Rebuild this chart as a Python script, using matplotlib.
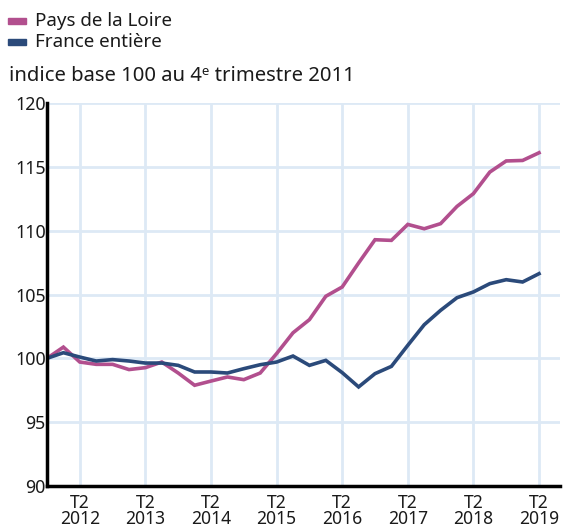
import matplotlib
matplotlib.use("Agg")
import matplotlib.pyplot as plt
from matplotlib.patches import Rectangle

plt.rcParams['font.family'] = ['Noto Sans', 'DejaVu Sans']

# quarters from 2011 T4 to 2019 T2
quarters = list(range(31))
pays_de_la_loire = [100.0, 100.88, 99.71, 99.53, 99.53, 99.12, 99.27, 99.71, 98.85, 97.89,
                    98.22, 98.54, 98.33, 98.85, 100.37, 102.0, 103.03, 104.86, 105.59, 107.47,
                    109.29, 109.24, 110.49, 110.15, 110.55, 111.9, 112.9, 114.59, 115.46, 115.5,
                    116.1]
france = [100.0, 100.44, 100.1, 99.79, 99.9, 99.79, 99.63, 99.63, 99.45, 98.93,
          98.93, 98.85, 99.19, 99.5, 99.71, 100.18, 99.45, 99.84, 98.88, 97.76,
          98.8, 99.37, 101.02, 102.63, 103.76, 104.75, 105.2, 105.85, 106.16, 105.98,
          106.63]
xtick_pos = [2, 6, 10, 14, 18, 22, 26, 30]
xtick_labels = ["T2\n2012", "T2\n2013", "T2\n2014", "T2\n2015", "T2\n2016", "T2\n2017", "T2\n2018", "T2\n2019"]
yticks = [90, 95, 100, 105, 110, 115, 120]
series_names = ["Pays de la Loire", "France entière"]
colors = ["#b24f8e", "#2b4a7a"]

W, H = 563, 529
fig = plt.figure(figsize=(W / 100, H / 100), dpi=100)
ax = fig.add_axes([47 / W, 1 - 486 / H, (560 - 47) / W, (486 - 103) / H])

ax.plot(quarters, pays_de_la_loire, color=colors[0], lw=2.6, solid_joinstyle='miter', zorder=3)
ax.plot(quarters, france, color=colors[1], lw=2.6, solid_joinstyle='miter', zorder=4)

ax.set_xlim(0, (560 - 47) / 16.4)
ax.set_ylim(90, 120)
ax.set_xticks(xtick_pos)
ax.set_xticklabels(xtick_labels, fontsize=12.6, linespacing=0.85)
ax.set_yticks(yticks)
ax.set_yticklabels([str(v) for v in yticks], fontsize=12.8)
ax.tick_params(length=0, pad=1, colors='#1a1a1a')
ax.tick_params(axis='x', pad=6)
ax.grid(True, color='#dde9f5', lw=2, zorder=0)
ax.set_axisbelow(True)
for s in ['top', 'right']:
    ax.spines[s].set_visible(False)
for s in ['left', 'bottom']:
    ax.spines[s].set_linewidth(2.5)
    ax.spines[s].set_color('black')
    ax.spines[s].set_zorder(5)

# legend
for i, (name, c) in enumerate(zip(series_names, colors)):
    yc = 21 + i * 21
    fig.patches.append(Rectangle((8 / W, 1 - (yc + 3) / H), 18 / W, 6 / H,
                                 transform=fig.transFigure, color=c, figure=fig))
    fig.text(35 / W, 1 - yc / H, name, fontsize=13.5, va='center', ha='left', color='#1a1a1a')

fig.text(9 / W, 1 - 76 / H, "indice base 100 au 4ᵉ trimestre 2011", fontsize=14.6,
         va='center', ha='left', color='#1a1a1a')

fig.savefig("out.png", dpi=100)
